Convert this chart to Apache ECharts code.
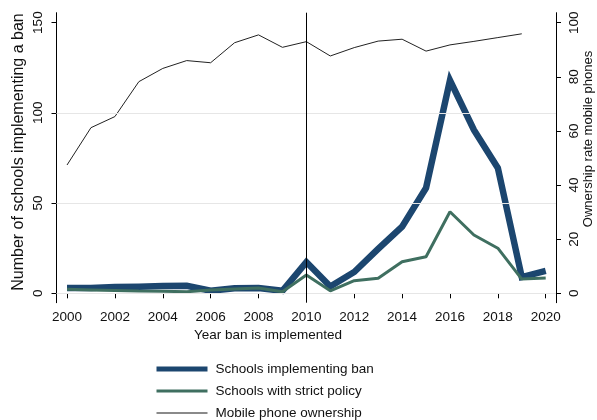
<!DOCTYPE html>
<html>
<head>
<meta charset="utf-8">
<script src="https://cdn.jsdelivr.net/npm/echarts@6/dist/echarts.min.js"></script>
<style>
  html, body { margin: 0; padding: 0; background: #fff; }
  #chart { width: 597px; height: 420px; }
</style>
</head>
<body>
<div id="chart"></div>
<script>
// Year of implementation
const years = [2000, 2001, 2002, 2003, 2004, 2005, 2006, 2007, 2008, 2009, 2010,
               2011, 2012, 2013, 2014, 2015, 2016, 2017, 2018, 2019, 2020];
// Number of schools implementing a ban (left axis)
const schoolsBan = [3, 3, 3.5, 3.7, 4, 4.2, 1.4, 2.8, 2.9, 1.4, 17.3,
                    3.8, 11.8, 24.6, 36.9, 58.4, 118, 90.5, 69.5, 9, 12.4];
// Schools with a strict policy (left axis)
const strictPolicy = [2.2, 1.9, 1.6, 1.3, 1.1, 0.9, 1.8, 2.4, 2.9, 0.9, 10.1,
                      1.4, 7, 8.3, 17.5, 20.3, 45.2, 32.3, 25, 7.9, 8.5];
// Mobile phone ownership rate, % (right axis); no value for 2020
const ownership = [47.4, 61.2, 65.3, 78.2, 83.1, 86.0, 85.2, 92.6, 95.5, 90.9, 93.0,
                   87.7, 90.8, 93.2, 93.9, 89.5, 91.8, 93.1, 94.5, 95.9, null];

const xTicks = [2000, 2002, 2004, 2006, 2008, 2010, 2012, 2014, 2016, 2018, 2020];
const leftTicks = [0, 50, 100, 150];
const rightTicks = [0, 20, 40, 60, 80, 100];
const leftGrid = [0, 50, 100];
const banYear = 2010;

const pairs = arr => years.map((y, i) => [y, arr[i]]);
const FONT = '"Liberation Sans", Arial, Helvetica, sans-serif';
const BLUE = '#1c466f';
const GREEN = '#3f6f60';

// axis ranges (left: schools, right: ownership %)
const L_MIN = -5.2, L_MAX = 155.5, R_MIN = -3.5, R_MAX = 103.7;
// express a left-axis value on the right axis so gridlines follow the left ticks
const leftToRight = v => R_MIN + (v - L_MIN) * (R_MAX - R_MIN) / (L_MAX - L_MIN);

const chart = echarts.init(document.getElementById('chart'), null, { renderer: 'canvas' });

chart.setOption({
  animation: false,
  backgroundColor: '#fff',
  textStyle: { fontFamily: FONT, color: '#111' },
  grid: { left: 56.5, right: 41, top: 12.7, bottom: 117.3 },
  xAxis: {
    type: 'value',
    min: 1999.56,
    max: 2020.43,
    axisLine: { show: true, lineStyle: { color: '#000', width: 1 } },
    axisTick: { show: true, length: 5, customValues: xTicks, lineStyle: { color: '#000' } },
    axisLabel: { customValues: xTicks, fontSize: 13.5, color: '#111', margin: 8,
                 fontFamily: FONT, formatter: v => String(v) },
    splitLine: { show: false }
  },
  yAxis: [
    {
      type: 'value',
      position: 'left',
      min: L_MIN,
      max: L_MAX,
      axisLine: { show: true, lineStyle: { color: '#000', width: 1 } },
      axisTick: { show: true, length: 5, customValues: leftTicks, lineStyle: { color: '#000' } },
      axisLabel: { customValues: leftTicks, rotate: 90, fontSize: 13.5, color: '#111',
                   margin: 11, fontFamily: FONT },
      splitLine: { show: false }
    },
    {
      type: 'value',
      position: 'right',
      min: R_MIN,
      max: R_MAX,
      axisLine: { show: true, lineStyle: { color: '#000', width: 1 } },
      axisTick: { show: true, length: 5, customValues: rightTicks, lineStyle: { color: '#000' } },
      axisLabel: { customValues: rightTicks, rotate: 90, fontSize: 13.5, color: '#111',
                   margin: 11, fontFamily: FONT },
      splitLine: { show: false }
    }
  ],
  legend: {
    orient: 'vertical',
    left: 154,
    top: 362,
    padding: 0,
    itemWidth: 51,
    itemHeight: 14,
    itemGap: 8,
    itemStyle: { opacity: 0 },
    textStyle: { fontSize: 13.5, color: '#111', fontFamily: FONT, padding: [0, 0, 0, 3] },
    data: [
      { name: 'Schools implementing ban', lineStyle: { color: BLUE, width: 5 } },
      { name: 'Schools with strict policy', lineStyle: { color: GREEN, width: 3 } },
      { name: 'Mobile phone ownership', lineStyle: { color: '#8a8a8a', width: 2 } }
    ]
  },
  graphic: [
    { type: 'text', x: 19, y: 152, rotation: Math.PI / 2,
      style: { text: 'Number of schools implementing a ban', font: '16px ' + FONT,
               fill: '#111', align: 'center', verticalAlign: 'middle' } },
    { type: 'text', x: 588, y: 139, rotation: Math.PI / 2,
      style: { text: 'Ownership rate mobile phones', font: '13px ' + FONT,
               fill: '#111', align: 'center', verticalAlign: 'middle' } },
    { type: 'text', x: 268, y: 335,
      style: { text: 'Year ban is implemented', font: '13.5px ' + FONT,
               fill: '#111', align: 'center', verticalAlign: 'middle' } }
  ],
  series: [
    {
      name: 'Mobile phone ownership',
      type: 'line',
      yAxisIndex: 1,
      data: pairs(ownership),
      symbol: 'none',
      connectNulls: false,
      lineStyle: { color: '#222', width: 1 },
      itemStyle: { color: '#222' },
      z: 2,
      markLine: {
        silent: true,
        symbol: 'none',
        label: { show: false },
        lineStyle: { color: '#e6e6e6', width: 1, type: 'solid' },
        data: leftGrid.map(v => ({ yAxis: leftToRight(v) }))
      }
    },
    {
      name: 'Schools implementing ban',
      type: 'line',
      yAxisIndex: 0,
      data: pairs(schoolsBan),
      symbol: 'none',
      lineStyle: { color: BLUE, width: 6.5, join: 'miter' },
      itemStyle: { color: BLUE },
      z: 3
    },
    {
      name: 'Schools with strict policy',
      type: 'line',
      yAxisIndex: 0,
      data: pairs(strictPolicy),
      symbol: 'none',
      lineStyle: { color: GREEN, width: 3 },
      itemStyle: { color: GREEN },
      z: 4,
      markLine: {
        silent: true,
        symbol: 'none',
        label: { show: false },
        lineStyle: { color: '#000', width: 1, type: 'solid' },
        data: [{ xAxis: banYear }]
      }
    }
  ]
});
</script>
</body>
</html>
